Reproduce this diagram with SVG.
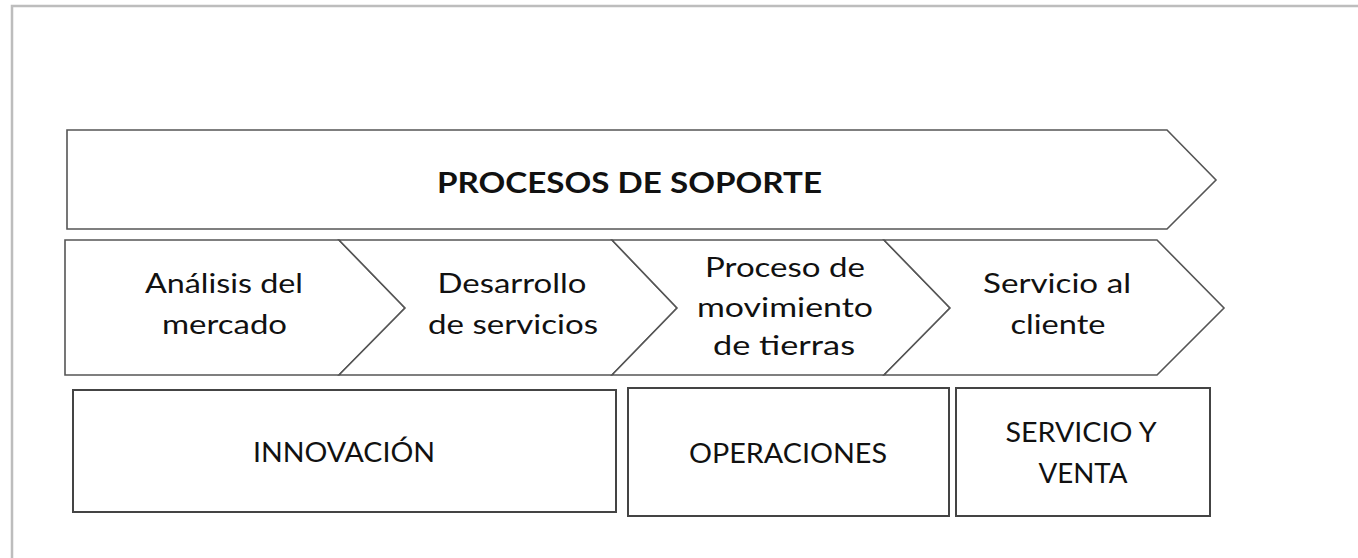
<svg xmlns="http://www.w3.org/2000/svg" width="1358" height="558" viewBox="0 0 1358 558">
<style>
.frame{fill:none;stroke:#bdbdbd;stroke-width:2.5}
.shape{fill:#ffffff;stroke:#555555;stroke-width:1.6;stroke-linejoin:miter}
.box{fill:#ffffff;stroke:#444444;stroke-width:2}
text{font-family:Lato,"Liberation Sans",sans-serif;fill:#111111;text-anchor:middle}
.t{font-size:27px}
.h{font-size:29px;font-weight:bold}
.c{font-size:27px}
</style>
<rect width="1358" height="558" fill="#ffffff"/>
<rect class="frame" x="12" y="6" width="1400" height="600"/>
<g id="soporte">
<polygon class="shape" points="67,130 1167,130 1216,180 1167,229 67,229"/>
<text class="h" x="629.5" y="193" textLength="385" lengthAdjust="spacingAndGlyphs">PROCESOS DE SOPORTE</text>
</g>
<g id="analisis">
<polygon class="shape" points="65,240 339,240 405,308 339,375 65,375"/>
<text class="t" x="224" y="293" textLength="158" lengthAdjust="spacingAndGlyphs">Análisis del</text>
<text class="t" x="224.5" y="334" textLength="125" lengthAdjust="spacingAndGlyphs">mercado</text>
</g>
<g id="desarrollo">
<polygon class="shape" points="339,240 612,240 677,308 612,375 339,375 405,308"/>
<text class="t" x="512" y="293" textLength="149" lengthAdjust="spacingAndGlyphs">Desarrollo</text>
<text class="t" x="513" y="334" textLength="170" lengthAdjust="spacingAndGlyphs">de servicios</text>
</g>
<g id="movimiento">
<polygon class="shape" points="612,240 884,240 950,308 884,375 612,375 677,308"/>
<text class="t" x="785" y="277" textLength="160" lengthAdjust="spacingAndGlyphs">Proceso de</text>
<text class="t" x="785" y="317" textLength="176" lengthAdjust="spacingAndGlyphs">movimiento</text>
<text class="t" x="784" y="355" textLength="142" lengthAdjust="spacingAndGlyphs">de tierras</text>
</g>
<g id="servicio-cliente">
<polygon class="shape" points="884,240 1157,240 1224,308 1157,375 884,375 950,308"/>
<text class="t" x="1057" y="293" textLength="148" lengthAdjust="spacingAndGlyphs">Servicio al</text>
<text class="t" x="1058" y="334" textLength="95" lengthAdjust="spacingAndGlyphs">cliente</text>
</g>
<g id="innovacion">
<rect class="box" x="73" y="390" width="543" height="122"/>
<text class="c" x="344" y="462" textLength="182" lengthAdjust="spacingAndGlyphs">INNOVACIÓN</text>
</g>
<g id="operaciones">
<rect class="box" x="628" y="388" width="321" height="128"/>
<text class="c" x="788" y="463" textLength="198" lengthAdjust="spacingAndGlyphs">OPERACIONES</text>
</g>
<g id="servicio-venta">
<rect class="box" x="956" y="388" width="254" height="128"/>
<text class="c" x="1081" y="442" textLength="151" lengthAdjust="spacingAndGlyphs">SERVICIO Y</text>
<text class="c" x="1083" y="483" textLength="89" lengthAdjust="spacingAndGlyphs">VENTA</text>
</g>
<g id="connectors"></g>
</svg>
